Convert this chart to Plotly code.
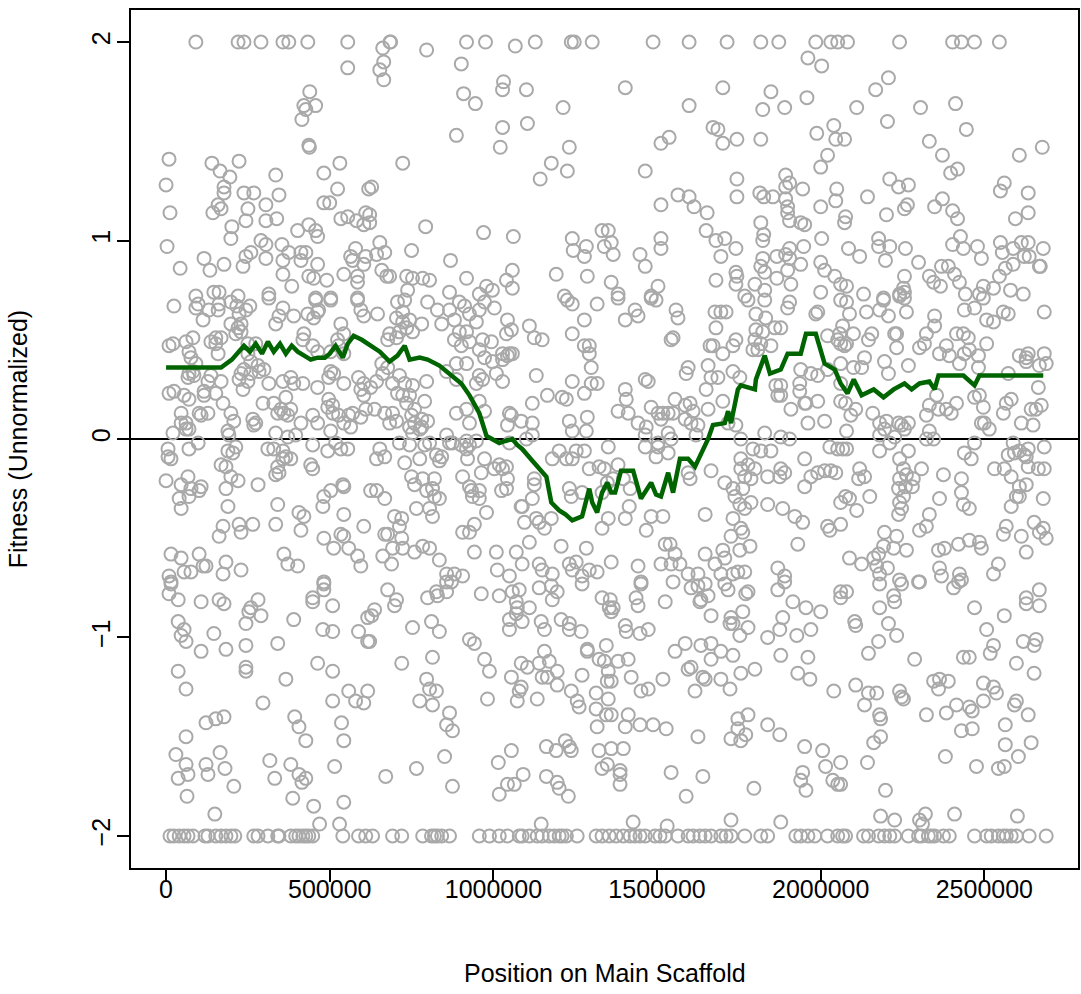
import plotly.graph_objects as go

# ---------------- data (positions in kb, fitness values) ----------------
FIT_MAX = 2.0
FIT_MIN = -2.0

# positions (kb) of points clipped at +2
pos_at_max_kb = [91, 220, 238, 290, 357, 375, 433, 555, 684, 686, 918, 976, 1128, 1238, 1247, 1302,
                 1488, 1598, 1714, 1817, 1872, 1985, 2031, 2052, 2082, 2241, 2403, 2430, 2470, 2546]

# positions (kb) of points clipped at -2
pos_at_min_kb = [12, 24, 40, 55, 67, 82, 119, 128, 152, 168, 183, 198, 210, 268, 281, 311, 341, 345, 381,
                 396, 406, 418, 427, 436, 448, 540, 588, 610,
                 631, 692, 720, 784, 811, 820, 829, 842, 866, 957, 988, 1018, 1043, 1079, 1088, 1110, 1134,
                 1149, 1171, 1186, 1201, 1210, 1223, 1256, 1314, 1332, 1354,
                 1375, 1397, 1418, 1433, 1448, 1464, 1494, 1509, 1525, 1564, 1595, 1610, 1631, 1647, 1665,
                 1695, 1711, 1726, 1768, 1817, 1838, 1924, 1939, 1961, 1982, 2021, 2052, 2067, 2076,
                 2131, 2146, 2177, 2195, 2211, 2226, 2268, 2299, 2308, 2329, 2338, 2348, 2375, 2393, 2470,
                 2507, 2521, 2543, 2558, 2567, 2582, 2598, 2637, 2689]

upper_left = [(555, 1.87), (439, 1.75), (421, 1.68), (427, 1.66), (457, 1.68), (415, 1.61), (436, 1.48), (438, 1.47),
    (9, 1.41), (0, 1.28), (12, 1.14), (3, 0.97), (43, 0.86), (140, 1.39), (165, 1.35), (195, 1.32), (177, 1.27),
    (177, 1.24), (159, 1.18), (168, 1.16), (143, 1.14), (223, 1.40), (335, 1.33), (238, 1.24), (268, 1.24),
    (345, 1.23), (250, 1.16), (305, 1.18), (244, 1.10), (305, 1.10), (338, 1.11), (201, 1.07), (198, 1.01),
    (290, 1.00), (305, 0.98), (354, 0.98), (375, 0.94), (259, 0.94), (244, 0.92), (235, 0.87), (305, 0.91),
    (357, 0.90), (116, 0.91), (134, 0.85), (177, 0.88), (412, 0.94), (427, 0.94), (412, 0.90), (463, 0.88),
    (357, 0.83), (436, 0.82), (451, 0.81), (491, 0.80), (384, 0.77), (482, 1.34), (531, 1.39), (524, 1.26),
    (482, 1.19), (500, 1.19), (534, 1.11), (555, 1.12), (582, 1.10), (604, 1.08), (610, 1.14), (619, 1.26),
    (402, 1.05), (436, 1.08), (457, 1.05), (463, 1.02), (579, 0.96), (564, 0.92), (570, 0.90), (604, 0.88),
    (610, 0.92), (543, 0.83), (585, 0.82), (585, 0.79), (146, 0.74), (162, 0.74), (91, 0.72), (314, 0.73),
    (220, 0.72), (457, 0.71), (503, 0.71), (585, 0.71)]

upper_mid_left = [(1067, 1.98), (662, 1.97), (665, 1.90), (653, 1.86), (665, 1.81), (796, 1.96), (902, 1.89),
    (909, 1.74), (945, 1.69), (1031, 1.80), (1028, 1.76), (1101, 1.76), (1213, 1.67), (887, 1.53), (1028, 1.57),
    (1021, 1.47), (1104, 1.59), (1232, 1.47), (1177, 1.39), (1226, 1.35), (1143, 1.31), (723, 1.39), (628, 1.27),
    (622, 1.13), (622, 1.09), (793, 1.07), (970, 1.04), (1061, 1.02), (653, 0.99), (643, 0.93), (668, 0.94),
    (750, 0.95), (869, 0.90), (1241, 1.01), (1284, 0.97), (1244, 0.95), (1278, 0.92), (1287, 0.82), (1332, 1.05),
    (1339, 0.97), (1192, 0.83), (659, 0.85), (674, 0.82), (683, 0.82), (735, 0.82), (753, 0.81), (784, 0.81),
    (805, 0.80), (738, 0.75), (866, 0.74), (918, 0.81), (957, 0.73), (979, 0.77), (997, 0.75), (1040, 0.80),
    (1058, 0.76), (1058, 0.85), (1217, 0.72)]

upper_mid_right = [(1961, 1.92), (2003, 1.88), (1403, 1.77), (1701, 1.77), (1848, 1.75), (1958, 1.72), (1598, 1.68),
    (1823, 1.66), (1890, 1.67), (1671, 1.57), (1686, 1.56), (1701, 1.49), (1744, 1.51), (1817, 1.51), (1512, 1.49),
    (1537, 1.52), (1988, 1.54), (2040, 1.58), (2046, 1.51), (2073, 1.51), (2021, 1.43), (2000, 1.37), (1464, 1.35),
    (1744, 1.31), (1744, 1.22), (1893, 1.33), (1905, 1.29), (1893, 1.27), (1945, 1.26), (1814, 1.24), (1826, 1.22),
    (1854, 1.22), (1893, 1.21), (1899, 1.17), (1899, 1.14), (1905, 1.10), (1939, 1.09), (1951, 1.08), (1564, 1.23),
    (1598, 1.22), (1613, 1.17), (1653, 1.14), (1512, 1.18), (1650, 1.05), (1680, 1.00), (1707, 1.01), (1741, 0.96),
    (1695, 0.92), (1512, 1.01), (1512, 0.96), (1448, 0.93), (1464, 0.87), (1817, 1.09), (1826, 1.03), (1823, 1.00),
    (2000, 1.17), (2046, 1.20), (2049, 1.26), (2003, 1.01), (2076, 1.12), (2073, 1.09), (1948, 0.97), (1905, 0.96),
    (1893, 0.93), (1905, 0.91), (1939, 0.88), (1866, 0.92), (1823, 0.91), (1817, 0.87), (1829, 0.84), (1866, 0.81),
    (1909, 0.78), (1899, 0.85), (1741, 0.84), (1744, 0.82), (1741, 0.78), (1680, 0.80), (1503, 0.77), (1482, 0.72),
    (1351, 1.05), (1360, 0.99), (1366, 0.93), (1360, 0.79), (1381, 0.73), (2000, 0.89), (2012, 0.85), (2043, 0.82),
    (2061, 0.78), (2000, 0.74), (1799, 0.78), (1829, 0.75), (1768, 0.72)]

upper_right = [(2207, 1.82), (2168, 1.76), (2110, 1.67), (2305, 1.67), (2412, 1.69), (2204, 1.60), (2445, 1.56),
    (2332, 1.50), (2372, 1.43), (2397, 1.34), (2418, 1.36), (2677, 1.47), (2607, 1.43), (2211, 1.31), (2238, 1.27),
    (2268, 1.28), (2143, 1.22), (2201, 1.13), (2256, 1.16), (2265, 1.18), (2348, 1.17), (2372, 1.21), (2403, 1.15),
    (2418, 1.11), (2561, 1.29), (2549, 1.25), (2634, 1.24), (2634, 1.14), (2595, 1.11), (2177, 1.01), (2177, 0.97),
    (2211, 0.97), (2259, 0.96), (2198, 0.90), (2085, 0.96), (2119, 0.92), (2299, 0.89), (2427, 1.02), (2403, 0.98),
    (2436, 0.96), (2479, 0.97), (2491, 0.91), (2549, 0.99), (2555, 0.94), (2588, 0.96), (2613, 0.99), (2634, 0.99),
    (2680, 0.96), (2622, 0.92), (2637, 0.92), (2668, 0.87), (2671, 0.87), (2588, 0.88), (2564, 0.86), (2546, 0.82),
    (2332, 0.82), (2345, 0.79), (2366, 0.77), (2369, 0.87), (2390, 0.87), (2409, 0.83), (2424, 0.79), (2256, 0.82),
    (2253, 0.76), (2241, 0.73), (2256, 0.74), (2079, 0.77), (2131, 0.73), (2192, 0.71), (2442, 0.73), (2485, 0.73),
    (2497, 0.77), (2528, 0.76), (2580, 0.75), (2619, 0.73)]

middle_left = [(24, 0.67), (91, 0.66), (98, 0.68), (131, 0.65), (159, 0.65), (162, 0.68), (198, 0.69), (216, 0.67),
    (223, 0.63), (244, 0.65), (256, 0.67), (113, 0.60), (198, 0.58), (220, 0.56), (229, 0.58), (213, 0.53),
    (229, 0.54), (314, 0.71), (357, 0.66), (345, 0.62), (390, 0.62), (433, 0.63), (457, 0.70), (466, 0.65),
    (503, 0.70), (335, 0.58), (421, 0.53), (418, 0.50), (451, 0.61), (463, 0.64), (534, 0.58), (543, 0.53),
    (524, 0.50), (585, 0.70), (595, 0.65), (604, 0.62), (9, 0.47), (21, 0.48), (61, 0.49), (82, 0.51), (70, 0.44),
    (91, 0.38), (76, 0.41), (137, 0.49), (152, 0.51), (168, 0.51), (159, 0.43), (152, 0.48), (250, 0.48),
    (274, 0.48), (250, 0.43), (259, 0.39), (281, 0.37), (299, 0.35), (238, 0.35), (229, 0.33), (448, 0.47),
    (463, 0.44), (503, 0.44), (543, 0.43), (527, 0.47), (70, 0.33), (85, 0.32), (82, 0.34), (67, 0.31), (137, 0.32),
    (168, 0.29), (128, 0.29), (223, 0.30), (250, 0.29), (259, 0.33), (284, 0.34), (235, 0.25), (314, 0.28),
    (357, 0.29), (381, 0.31), (390, 0.28), (418, 0.28), (463, 0.26), (497, 0.31), (503, 0.34), (512, 0.33),
    (543, 0.28), (588, 0.31), (604, 0.28), (595, 0.25), (625, 0.26), (9, 0.23), (24, 0.24), (55, 0.22), (70, 0.20),
    (116, 0.24), (116, 0.22), (152, 0.23), (174, 0.18), (101, 0.13), (128, 0.13), (107, 0.12), (46, 0.13),
    (61, 0.08), (46, 0.08), (21, 0.03), (61, 0.05), (70, 0.05), (198, 0.13), (207, 0.09), (192, 0.02), (189, 0.04),
    (265, 0.10), (268, 0.07), (274, 0.08), (296, 0.18), (329, 0.18), (351, 0.15), (366, 0.21), (381, 0.15),
    (360, 0.13), (341, 0.13), (372, 0.12), (335, 0.03), (372, 0.01), (396, 0.02), (412, 0.08), (448, 0.12),
    (463, 0.08), (497, 0.20), (509, 0.17), (494, 0.16), (509, 0.13), (527, 0.12), (543, 0.08), (558, 0.12),
    (570, 0.13), (564, 0.06), (503, 0.04), (604, 0.22), (610, 0.15), (595, 0.11),
    (6, -0.05), (15, -0.10), (6, -0.09), (70, -0.05), (98, -0.02), (168, -0.13), (183, -0.14), (189, -0.06),
    (204, -0.07), (213, -0.04), (198, -0.19), (220, -0.21), (311, -0.05), (329, -0.05), (357, -0.06), (357, -0.10),
    (381, -0.10), (366, -0.09), (341, -0.14), (335, -0.18), (345, -0.17), (442, -0.13), (448, -0.15), (448, -0.03),
    (494, -0.06), (518, -0.02), (534, -0.05), (555, -0.05), (0, -0.21), (46, -0.23), (67, -0.19), (76, -0.25),
    (101, -0.26), (107, -0.24), (40, -0.30), (46, -0.35), (70, -0.29), (183, -0.25), (189, -0.34), (281, -0.23),
    (341, -0.33), (406, -0.37), (421, -0.39), (482, -0.29), (503, -0.26), (479, -0.34), (540, -0.23), (543, -0.24),
    (543, -0.38), (625, -0.26), (174, -0.44), (162, -0.49), (223, -0.43), (229, -0.47), (265, -0.43), (335, -0.43),
    (412, -0.46), (482, -0.50), (534, -0.48), (543, -0.49), (512, -0.55), (558, -0.55), (585, -0.59), (604, -0.44),
    (595, -0.64), (15, -0.58), (46, -0.60), (101, -0.58), (113, -0.64), (122, -0.64), (55, -0.67), (76, -0.67),
    (183, -0.62), (174, -0.68), (229, -0.66), (360, -0.58), (372, -0.63), (402, -0.64), (9, -0.69), (15, -0.72),
    (482, -0.72)]

middle_mid_left = [(707, 0.69), (729, 0.70), (723, 0.64), (704, 0.61), (723, 0.59), (744, 0.60), (735, 0.56),
    (713, 0.54), (753, 0.54), (683, 0.53), (677, 0.50), (704, 0.51), (646, 0.63), (781, 0.58), (799, 0.69),
    (829, 0.65), (842, 0.58), (866, 0.65), (881, 0.60), (896, 0.69), (912, 0.67), (927, 0.63), (957, 0.65),
    (973, 0.69), (1003, 0.66), (948, 0.59), (896, 0.54), (918, 0.54), (927, 0.49), (902, 0.47), (881, 0.50),
    (967, 0.50), (994, 0.49), (1040, 0.53), (1055, 0.55), (1043, 0.60), (1028, 0.43), (1043, 0.42), (1058, 0.43),
    (957, 0.45), (1110, 0.57), (1125, 0.51), (1149, 0.50), (1226, 0.70), (1241, 0.68), (1317, 0.68), (1278, 0.60),
    (1241, 0.53), (1278, 0.47), (1293, 0.47), (1293, 0.43), (1299, 0.36), (1299, 0.28), (1317, 0.28), (1278, 0.23),
    (1131, 0.32), (1241, 0.29), (1210, 0.21), (1223, 0.20), (1165, 0.22), (1119, 0.18), (973, 0.41), (997, 0.39),
    (1028, 0.40), (1049, 0.43), (1009, 0.33), (1028, 0.29), (967, 0.30), (948, 0.28), (957, 0.32), (887, 0.38),
    (918, 0.38), (857, 0.34), (887, 0.30), (659, 0.38), (677, 0.36), (662, 0.33), (643, 0.29), (692, 0.28),
    (713, 0.32), (729, 0.28), (707, 0.23), (723, 0.22), (744, 0.22), (735, 0.18), (753, 0.27), (796, 0.29),
    (790, 0.19), (759, 0.15), (668, 0.13), (692, 0.13), (704, 0.09), (683, 0.08), (637, 0.15), (750, 0.12),
    (759, 0.08), (781, 0.10), (744, 0.06), (753, 0.03), (775, 0.05), (781, 0.06), (799, 0.09), (887, 0.13),
    (927, 0.08), (918, 0.15), (957, 0.19), (973, 0.14), (857, 0.02), (875, -0.02), (918, -0.01), (927, -0.03),
    (948, -0.01), (1049, 0.13), (1055, 0.12), (1085, 0.09), (1119, 0.08), (1043, 0.07), (1119, 0.02), (1101, 0.00),
    (1049, -0.02), (1232, 0.09), (1241, 0.04), (1284, 0.04), (1287, 0.11),
    (653, -0.05), (643, -0.10), (668, -0.09), (713, -0.02), (744, -0.03), (729, -0.12), (775, -0.10), (790, -0.03),
    (805, -0.02), (826, -0.08), (842, -0.09), (835, -0.11), (866, -0.02), (902, -0.03), (918, -0.05), (921, -0.10),
    (963, -0.17), (973, -0.10), (1003, -0.15), (1018, -0.13), (1028, -0.15), (1040, -0.14), (1180, -0.10),
    (1201, -0.06), (1223, -0.10), (1241, -0.10), (1253, -0.06), (1278, -0.06), (1293, -0.15), (1323, -0.14),
    (1339, -0.15), (750, -0.19), (759, -0.23), (784, -0.20), (820, -0.20), (814, -0.25), (796, -0.26), (820, -0.29),
    (835, -0.30), (643, -0.26), (668, -0.30), (906, -0.19), (927, -0.24), (936, -0.29), (957, -0.26), (957, -0.30),
    (933, -0.26), (1025, -0.26), (1040, -0.25), (1043, -0.20), (1125, -0.20), (1125, -0.23), (1119, -0.30),
    (1085, -0.34), (1232, -0.25), (1238, -0.29), (1271, -0.27), (1332, -0.27), (1348, -0.22), (698, -0.39),
    (720, -0.40), (713, -0.44), (677, -0.48), (668, -0.48), (720, -0.50), (692, -0.55), (723, -0.55), (662, -0.59),
    (689, -0.63), (759, -0.57), (784, -0.54), (805, -0.55), (835, -0.61), (765, -0.35), (805, -0.35), (814, -0.39),
    (906, -0.47), (927, -0.47), (942, -0.43), (942, -0.57), (979, -0.37), (1009, -0.57), (1012, -0.66),
    (1049, -0.69), (1088, -0.34), (1095, -0.42), (1131, -0.40), (1140, -0.42), (1177, -0.40), (1156, -0.45),
    (1207, -0.54), (1110, -0.52), (1070, -0.57), (1088, -0.63), (1140, -0.63), (1149, -0.66), (1180, -0.68),
    (1232, -0.63), (1253, -0.62), (1241, -0.66), (1271, -0.69), (1293, -0.66), (1317, -0.67), (1284, -0.55),
    (1332, -0.45), (857, -0.68), (881, -0.68), (906, -0.69), (857, -0.72), (872, -0.72)]

middle_mid_right = [(1381, 0.71), (1433, 0.65), (1442, 0.62), (1403, 0.60), (1482, 0.71), (1497, 0.70), (1558, 0.65),
    (1564, 0.61), (1549, 0.51), (1543, 0.50), (1677, 0.64), (1695, 0.64), (1711, 0.64), (1680, 0.56), (1671, 0.47),
    (1662, 0.47), (1701, 0.43), (1732, 0.47), (1741, 0.50), (1686, 0.31), (1778, 0.70), (1829, 0.70), (1802, 0.63),
    (1832, 0.61), (1802, 0.55), (1823, 0.54), (1860, 0.56), (1878, 0.56), (1799, 0.50), (1817, 0.48), (1793, 0.45),
    (1808, 0.45), (1848, 0.47), (1899, 0.66), (1905, 0.69), (1985, 0.63), (1991, 0.64), (2061, 0.70), (2067, 0.57),
    (2058, 0.53), (2021, 0.52), (2052, 0.50), (2061, 0.48), (2073, 0.47), (1595, 0.36), (1589, 0.33), (1656, 0.37),
    (1665, 0.31), (1732, 0.34), (1753, 0.31), (1464, 0.30), (1473, 0.29), (1403, 0.25), (1406, 0.20), (1381, 0.14),
    (1412, 0.13), (1482, 0.16), (1503, 0.13), (1518, 0.13), (1534, 0.13), (1549, 0.13), (1512, 0.10), (1555, 0.20),
    (1586, 0.17), (1601, 0.18), (1610, 0.14), (1586, 0.10), (1604, 0.08), (1625, 0.07), (1619, 0.02), (1442, 0.08),
    (1467, 0.06), (1464, 0.02), (1534, 0.03), (1543, 0.00), (1503, -0.02), (1656, 0.15), (1650, 0.25), (1701, 0.19),
    (1741, 0.07), (1717, 0.08), (1863, 0.27), (1878, 0.27), (1878, 0.22), (1869, 0.22), (1936, 0.28), (1936, 0.24),
    (1951, 0.18), (1955, 0.18), (1991, 0.19), (1909, 0.15), (1961, 0.08), (2012, 0.09), (1939, 0.35), (1970, 0.33),
    (1991, 0.32), (2021, 0.35), (2061, 0.38), (2061, 0.28), (2061, 0.19), (2076, 0.18),
    (1756, 0.00), (1829, 0.03), (1878, 0.01), (1905, 0.00), (1848, -0.06), (1817, -0.06), (1793, -0.05),
    (1756, -0.10), (1778, -0.13), (1799, -0.15), (1756, -0.15), (1878, -0.15), (1875, -0.19), (1890, -0.17),
    (1838, -0.19), (1768, -0.19), (1787, -0.20), (1951, -0.10), (1951, -0.24), (1970, -0.19), (1991, -0.17),
    (2012, -0.16), (2031, -0.16), (2046, -0.17), (2028, -0.04), (2052, -0.05), (2067, -0.05), (1351, -0.04),
    (1381, -0.13), (1366, -0.20), (1397, -0.20), (1418, -0.25), (1415, -0.34), (1403, -0.40), (1351, -0.40),
    (1464, -0.04), (1497, -0.09), (1503, -0.04), (1534, -0.07), (1595, -0.17), (1601, -0.20), (1665, -0.16),
    (1707, -0.22), (1732, -0.25), (1738, -0.29), (1762, -0.25), (1753, -0.33), (1768, -0.35), (1787, -0.32),
    (1838, -0.33), (1884, -0.35), (1921, -0.39), (1945, -0.42), (1482, -0.39), (1518, -0.39), (1467, -0.46),
    (1647, -0.38), (1732, -0.40), (1726, -0.49), (1756, -0.45), (1762, -0.47), (1784, -0.54), (1753, -0.56),
    (1930, -0.53), (2021, -0.44), (2028, -0.46), (2061, -0.43), (2061, -0.32), (2076, -0.29), (1525, -0.53),
    (1540, -0.53), (1555, -0.58), (1512, -0.63), (1543, -0.63), (1570, -0.63), (1595, -0.68), (1647, -0.58),
    (1677, -0.63), (1701, -0.56), (1707, -0.60), (1695, -0.68), (1732, -0.68), (1747, -0.67), (1768, -0.67),
    (1625, -0.68), (1869, -0.65), (1890, -0.69), (1451, -0.72), (1442, -0.64), (1360, -0.62)]

middle_right = [(2079, 0.69), (2140, 0.64), (2180, 0.65), (2192, 0.70), (2207, 0.62), (2232, 0.53), (2256, 0.71),
    (2262, 0.64), (2241, 0.72), (2226, 0.53), (2156, 0.53), (2146, 0.50), (2100, 0.53), (2088, 0.63), (2348, 0.62),
    (2348, 0.57), (2323, 0.53), (2317, 0.48), (2302, 0.46), (2232, 0.46), (2195, 0.39), (2268, 0.37), (2207, 0.33),
    (2134, 0.41), (2125, 0.36), (2100, 0.36), (2079, 0.48), (2439, 0.65), (2470, 0.66), (2507, 0.60), (2528, 0.59),
    (2497, 0.71), (2558, 0.64), (2573, 0.63), (2683, 0.64), (2415, 0.53), (2436, 0.53), (2451, 0.51), (2384, 0.47),
    (2363, 0.43), (2393, 0.42), (2439, 0.43), (2454, 0.45), (2482, 0.42), (2507, 0.48), (2424, 0.38), (2482, 0.36),
    (2607, 0.42), (2634, 0.43), (2628, 0.41), (2628, 0.39), (2683, 0.43), (2668, 0.37), (2689, 0.38), (2573, 0.33),
    (2665, 0.26), (2643, 0.15), (2658, 0.15), (2674, 0.17), (2613, 0.08), (2649, 0.07), (2558, 0.13), (2567, 0.18),
    (2582, 0.20), (2485, 0.22), (2470, 0.21), (2497, 0.16), (2491, 0.08), (2500, 0.08), (2515, 0.05), (2354, 0.22),
    (2332, 0.17), (2360, 0.15), (2384, 0.15), (2399, 0.13), (2415, 0.18), (2323, 0.12), (2323, 0.00), (2345, 0.00),
    (2332, 0.04), (2268, 0.08), (2247, 0.07), (2256, 0.05), (2238, 0.08), (2201, 0.09), (2180, 0.08), (2195, 0.05),
    (2180, 0.02), (2211, -0.02), (2226, 0.01), (2159, 0.13), (2107, 0.15), (2092, 0.12), (2079, 0.04),
    (2079, -0.05), (2180, -0.06), (2268, -0.06), (2241, -0.10), (2253, -0.15), (2262, -0.18), (2283, -0.20),
    (2308, -0.15), (2241, -0.20), (2238, -0.25), (2253, -0.29), (2241, -0.32), (2247, -0.35), (2238, -0.38),
    (2259, -0.24), (2280, -0.24), (2119, -0.15), (2116, -0.20), (2134, -0.19), (2088, -0.30), (2110, -0.36),
    (2150, -0.29), (2375, -0.18), (2363, -0.30), (2430, -0.20), (2430, -0.27), (2436, -0.33), (2454, -0.35),
    (2439, -0.07), (2460, -0.10), (2470, -0.02), (2531, -0.15), (2561, -0.15), (2582, -0.19), (2588, -0.02),
    (2573, -0.08), (2592, -0.07), (2607, -0.06), (2622, -0.08), (2634, -0.05), (2634, -0.14), (2607, -0.24),
    (2628, -0.23), (2598, -0.29), (2607, -0.29), (2582, -0.34), (2665, -0.15), (2683, -0.15), (2683, -0.04),
    (2680, -0.30), (2628, -0.09), (2332, -0.38), (2323, -0.44), (2302, -0.46), (2195, -0.47), (2232, -0.49),
    (2192, -0.54), (2262, -0.56), (2223, -0.55), (2177, -0.58), (2162, -0.60), (2171, -0.64), (2180, -0.68),
    (2125, -0.63), (2088, -0.60), (2204, -0.65), (2241, -0.71), (2299, -0.72), (2360, -0.56), (2378, -0.55),
    (2363, -0.65), (2369, -0.69), (2424, -0.68), (2430, -0.71), (2421, -0.53), (2454, -0.51), (2485, -0.52),
    (2491, -0.55), (2528, -0.68), (2543, -0.63), (2567, -0.44), (2558, -0.48), (2613, -0.49), (2628, -0.57),
    (2652, -0.42), (2680, -0.45), (2689, -0.50), (2668, -0.47)]

lower_left = [(15, -0.73), (9, -0.78), (37, -0.81), (107, -0.82), (162, -0.81), (177, -0.83), (281, -0.81),
    (259, -0.85), (253, -0.87), (290, -0.89), (244, -0.93), (390, -0.91), (448, -0.80), (448, -0.82), (482, -0.76),
    (482, -0.73), (509, -0.84), (479, -0.96), (509, -0.97), (588, -0.97), (616, -0.90), (616, -1.02), (37, -0.92),
    (55, -0.96), (46, -0.99), (61, -1.02), (146, -0.98), (107, -1.07), (183, -1.06), (244, -1.04), (341, -1.03),
    (37, -1.17), (61, -1.26), (244, -1.15), (244, -1.17), (366, -1.21), (463, -1.13), (509, -1.17), (509, -1.32),
    (558, -1.27), (579, -1.32), (604, -1.33), (616, -1.27), (296, -1.33), (61, -1.50), (122, -1.43), (152, -1.41),
    (177, -1.40), (30, -1.59), (61, -1.64), (67, -1.69), (37, -1.71), (122, -1.64), (128, -1.69), (165, -1.58),
    (180, -1.66), (207, -1.75), (64, -1.80), (149, -1.89), (317, -1.62), (332, -1.71), (381, -1.64), (406, -1.69),
    (415, -1.73), (427, -1.71), (393, -1.40), (406, -1.45), (427, -1.52), (387, -1.81), (451, -1.85), (469, -1.94),
    (515, -1.65), (536, -1.43), (543, -1.52), (530, -1.94), (543, -1.83)]

lower_mid_left = [(677, -0.76), (704, -0.81), (698, -0.84), (637, -0.86), (628, -0.89), (622, -1.02), (799, -0.80),
    (826, -0.77), (829, -0.79), (857, -0.77), (963, -0.78), (1018, -0.79), (1058, -0.77), (1079, -0.76),
    (1070, -0.82), (1073, -0.85), (1110, -0.85), (1070, -0.88), (1088, -0.92), (1049, -0.96), (1049, -0.91),
    (1140, -0.75), (1177, -0.74), (1195, -0.77), (1180, -0.81), (1146, -0.92), (1156, -0.96), (1207, -0.91),
    (1232, -0.93), (1232, -0.96), (1268, -0.97), (1271, -0.73), (1332, -0.80), (1354, -0.85), (1345, -1.04),
    (1287, -1.06), (753, -0.95), (811, -0.92), (835, -0.97), (927, -1.01), (942, -1.03), (720, -1.13), (814, -1.10),
    (796, -1.21), (805, -1.26), (826, -1.27), (775, -1.32), (814, -1.34), (866, -1.38), (857, -1.44), (875, -1.47),
    (973, -1.11), (988, -1.17), (982, -1.31), (1055, -1.20), (1085, -1.13), (1104, -1.15), (1085, -1.25),
    (1079, -1.27), (1073, -1.32), (1134, -1.31), (1140, -1.13), (1156, -1.07), (1171, -1.12), (1149, -1.20),
    (1165, -1.20), (1195, -1.17), (1195, -1.24), (1238, -1.27), (1256, -1.32), (1262, -1.35), (1271, -1.19),
    (1287, -1.07), (1314, -1.28), (1314, -1.36), (1317, -1.45), (1323, -1.11), (1339, -1.12), (1348, -1.22),
    (1345, -1.39), (671, -1.70), (765, -1.66), (851, -1.60), (875, -1.75), (1015, -1.63), (1055, -1.57),
    (1018, -1.79), (1043, -1.74), (1064, -1.74), (1091, -1.69), (1162, -1.55), (1162, -1.70), (1192, -1.57),
    (1195, -1.73), (1201, -1.76), (1229, -1.80), (1220, -1.52), (1232, -1.55), (1238, -1.57), (1323, -1.57),
    (1332, -1.66), (1348, -1.64), (1146, -1.94)]

lower_mid_right = [(1357, -0.81), (1366, -0.85), (1360, -0.87), (1436, -0.80), (1442, -0.84), (1451, -0.73),
    (1525, -0.82), (1549, -0.72), (1604, -0.75), (1625, -0.74), (1647, -0.73), (1656, -0.79), (1631, -0.82),
    (1634, -0.81), (1707, -0.73), (1717, -0.76), (1778, -0.77), (1771, -0.78), (1869, -0.76), (1915, -0.82),
    (1955, -0.85), (2000, -0.87), (2061, -0.77), (2061, -0.80), (1890, -0.72), (1665, -0.89), (1726, -0.90),
    (1732, -0.93), (1723, -0.93), (1762, -0.87), (1778, -0.95), (1753, -0.99), (1838, -1.00), (1875, -0.96),
    (1884, -0.90), (1927, -0.99), (1970, -0.96), (1403, -0.94), (1406, -0.97), (1448, -0.98), (1473, -0.96),
    (1381, -1.12), (1412, -1.11), (1360, -1.22), (1351, -1.17), (1421, -1.20), (1451, -1.27), (1473, -1.26),
    (1518, -1.21), (1555, -1.07), (1586, -1.03), (1595, -1.16), (1604, -1.15), (1616, -1.27), (1640, -1.20),
    (1647, -1.21), (1634, -1.04), (1665, -1.03), (1665, -1.11), (1695, -1.07), (1732, -1.09), (1695, -1.21),
    (1723, -1.26), (1756, -1.18), (1799, -1.16), (1878, -1.09), (1930, -1.18), (1961, -1.10), (1967, -1.21),
    (2040, -1.27), (1351, -1.31), (1360, -1.39), (1412, -1.39), (1403, -1.45), (1448, -1.44), (1488, -1.44),
    (1528, -1.46), (1625, -1.50), (1360, -1.56), (1397, -1.56), (1387, -1.67), (1387, -1.69), (1387, -1.74),
    (1543, -1.68), (1589, -1.80), (1640, -1.70), (1747, -1.41), (1778, -1.39), (1747, -1.46), (1771, -1.49),
    (1726, -1.51), (1756, -1.52), (1838, -1.44), (1875, -1.49), (1796, -1.76), (1951, -1.55), (1945, -1.68),
    (1939, -1.72), (1955, -1.77), (2006, -1.57), (2015, -1.65), (2037, -1.72), (2052, -1.74), (2061, -1.63),
    (2061, -1.74), (1427, -1.93), (1531, -1.95), (1726, -1.92), (1878, -1.93)]

lower_right = [(2079, -0.77), (2180, -0.73), (2247, -0.73), (2302, -0.72), (2406, -0.75), (2421, -0.72),
    (2223, -0.79), (2226, -0.82), (2180, -0.85), (2207, -0.93), (2104, -0.92), (2107, -0.94), (2177, -1.02),
    (2232, -0.99), (2146, -1.08), (2287, -1.11), (2470, -0.85), (2561, -0.89), (2507, -0.96), (2528, -1.04),
    (2518, -1.08), (2436, -1.10), (2454, -1.10), (2598, -1.13), (2652, -1.18), (2628, -0.80), (2628, -0.83),
    (2668, -0.76), (2668, -0.84), (2619, -1.02), (2658, -1.01), (2652, -1.04), (2107, -1.24), (2146, -1.28),
    (2171, -1.28), (2134, -1.34), (2180, -1.39), (2183, -1.41), (2241, -1.27), (2247, -1.30), (2253, -1.31),
    (2323, -1.39), (2345, -1.22), (2360, -1.26), (2363, -1.21), (2390, -1.22), (2384, -1.38), (2415, -1.34),
    (2454, -1.35), (2463, -1.37), (2497, -1.23), (2528, -1.25), (2537, -1.28), (2497, -1.32), (2430, -1.47),
    (2463, -1.46), (2564, -1.44), (2564, -1.54), (2598, -1.32), (2592, -1.34), (2634, -1.39), (2643, -1.53),
    (2604, -1.60), (2561, -1.65), (2543, -1.66), (2476, -1.65), (2381, -1.60), (2183, -1.50), (2162, -1.53),
    (2143, -1.63), (2198, -1.77), (2183, -1.90), (2226, -1.92), (2302, -1.92), (2320, -1.89), (2311, -1.94),
    (2409, -1.89), (2601, -1.90)]

# running mean (smoothed fitness) along the scaffold
running_pos_kb = [0, 168, 201, 238, 256, 274, 293, 311, 329, 348, 366, 384, 402, 421, 442, 463, 485, 500, 518,
                  540, 555, 573, 598, 625, 653, 683, 707, 729, 744, 775, 799, 835, 875, 902, 927, 957, 979, 997,
                  1018, 1037, 1058, 1073, 1088, 1119, 1162, 1177, 1201, 1220, 1241, 1271, 1293, 1302, 1317, 1332,
                  1348, 1360, 1372, 1390, 1427, 1451, 1482, 1497, 1512, 1534, 1549, 1570, 1595, 1616, 1656, 1671,
                  1707, 1717, 1726, 1747, 1756, 1799, 1802, 1829, 1845, 1878, 1899, 1939, 1955, 1985, 2012, 2043,
                  2061, 2082, 2101, 2125, 2162, 2192, 2223, 2256, 2278, 2302, 2332, 2348, 2360, 2406, 2436, 2470,
                  2485, 2680]
running_fit = [0.36, 0.36, 0.40, 0.47, 0.44, 0.48, 0.43, 0.49, 0.44, 0.48, 0.43, 0.47, 0.44, 0.42, 0.40, 0.41,
               0.41, 0.43, 0.47, 0.41, 0.48, 0.52, 0.50, 0.47, 0.44, 0.39, 0.42, 0.47, 0.40, 0.41, 0.40, 0.37,
               0.32, 0.28, 0.22, 0.13, 0.015, 0.0, -0.02, -0.01, 0.0, -0.03, -0.05, -0.11, -0.19, -0.32, -0.36,
               -0.38, -0.41, -0.39, -0.25, -0.32, -0.37, -0.27, -0.22, -0.27, -0.27, -0.16, -0.16, -0.30, -0.22,
               -0.28, -0.29, -0.17, -0.27, -0.10, -0.10, -0.14, 0.0, 0.07, 0.08, 0.14, 0.08, 0.25, 0.27, 0.25,
               0.30, 0.42, 0.33, 0.35, 0.43, 0.43, 0.53, 0.53, 0.38, 0.35, 0.28, 0.23, 0.30, 0.22, 0.25, 0.21,
               0.25, 0.28, 0.25, 0.28, 0.29, 0.25, 0.32, 0.32, 0.32, 0.27, 0.32, 0.32]

x_ticks = [0, 500000, 1000000, 1500000, 2000000, 2500000]
x_tick_labels = ["0", "500000", "1000000", "1500000", "2000000", "2500000"]
y_ticks = [-2, -1, 0, 1, 2]
y_tick_labels = ["\u22122", "\u22121", "0", "1", "2"]

# ---------------- assemble ----------------
regions = (upper_left + upper_mid_left + upper_mid_right + upper_right + middle_left + middle_mid_left
           + middle_mid_right + middle_right + lower_left + lower_mid_left + lower_mid_right + lower_right)
xs = [p[0] * 1000 for p in regions] + [k * 1000 for k in pos_at_max_kb] + [k * 1000 for k in pos_at_min_kb]
ys = [p[1] for p in regions] + [FIT_MAX for _ in pos_at_max_kb] + [FIT_MIN for _ in pos_at_min_kb]

fig = go.Figure()
fig.add_trace(go.Scatter(
    x=xs, y=ys, mode="markers",
    marker=dict(symbol="circle-open", size=13, color="#A9A9A9", line=dict(width=2, color="#A9A9A9")),
    hoverinfo="skip"))
fig.add_trace(go.Scatter(
    x=[k * 1000 for k in running_pos_kb], y=running_fit, mode="lines",
    line=dict(color="#006400", width=4.5)))

font_family = "Liberation Sans, Arial, Helvetica, sans-serif"
fig.update_layout(
    width=1081, height=994,
    margin=dict(l=131, r=1, t=10, b=126),
    paper_bgcolor="white", plot_bgcolor="white",
    showlegend=False,
    font=dict(family=font_family, size=25, color="black"),
)
fig.update_xaxes(
    range=[-107160, 2786160], tickmode="array", tickvals=x_ticks, ticktext=x_tick_labels,
    ticks="outside", ticklen=12, tickwidth=2, tickcolor="black", ticklabelstandoff=-14,
    showline=True, linecolor="black", linewidth=2, mirror=True,
    showgrid=False, zeroline=False, tickfont=dict(size=25),
)
fig.update_yaxes(
    range=[-2.1616, 2.1616], tickmode="array", tickvals=y_ticks, ticktext=y_tick_labels,
    tickangle=-90, ticklabelstandoff=-3,
    ticks="outside", ticklen=12, tickwidth=2, tickcolor="black",
    showline=True, linecolor="black", linewidth=2, mirror=True,
    showgrid=False, zeroline=True, zerolinecolor="black", zerolinewidth=2,
    tickfont=dict(size=25),
)
fig.add_annotation(text="Position on Main Scaffold", xref="paper", yref="paper", x=0.5, y=-0.1224,
                   xanchor="center", yanchor="middle", showarrow=False, font=dict(size=25))
fig.add_annotation(text="Fitness (Unnormalized)", xref="paper", yref="paper", x=-0.1191, y=0.5,
                   xanchor="center", yanchor="middle", textangle=-90, showarrow=False, font=dict(size=25))

fig.write_html("out.html",
               config={"displayModeBar": False},
               post_script="document.body.style.margin='0';document.body.style.overflow='hidden';")
